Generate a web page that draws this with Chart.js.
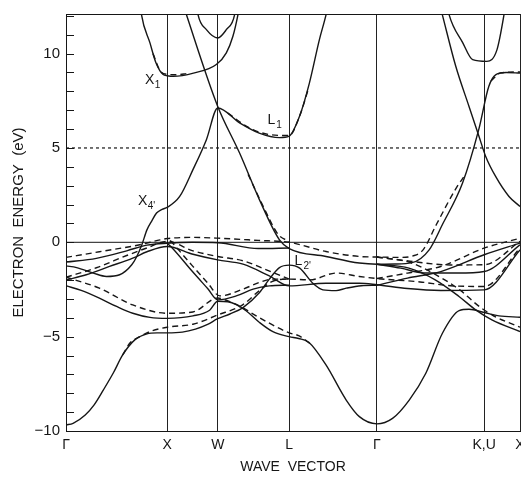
<!DOCTYPE html>
<html><head><meta charset="utf-8">
<script src="https://cdn.jsdelivr.net/npm/chart.js@4.4.1/dist/chart.umd.min.js"></script>
<style>html,body{margin:0;padding:0;background:#fff;overflow:hidden}</style>
</head><body>
<canvas id="c" width="521" height="477"></canvas>
<script>
// high-symmetry points along the path (units of 2π/a)
const kPoints = [0, 1.0, 1.5, 2.207, 3.073, 4.134, 4.488];
const kLabels = ['Γ', 'X', 'W', 'L', 'Γ', 'K,U', 'X'];
const eTicks = [-10, -5, 0, 5, 10];
const eMin = -10, eMax = 12.1;

// solid bands [k, E(eV)]
const sA = [[0,-9.68],[0.07,-9.59],[0.19,-9.15],[0.28,-8.6],[0.37,-7.82],[0.47,-6.9],[0.56,-5.97],[0.68,-5.17],[0.8,-4.85],[0.9,-4.8],[1.0,-4.8],[1.15,-4.76],[1.28,-4.6],[1.4,-4.35],[1.5,-4.05],[1.62,-3.8],[1.75,-3.46],[1.913,-2.66],[2.01,-1.95],[2.11,-1.34],[2.207,-1.21],[2.31,-1.37],[2.44,-2.17],[2.54,-2.52],[2.67,-2.56],[2.77,-2.43],[2.92,-2.3],[3.073,-2.28]];
const sB = [[0,-2.3],[0.15,-2.55],[0.33,-2.96],[0.5,-3.4],[0.66,-3.76],[0.83,-3.98],[1.0,-4.03],[1.255,-3.9],[1.42,-3.6],[1.5,-3.12],[1.6,-3.15],[1.683,-3.3],[1.78,-3.63],[1.913,-4.25],[2.05,-4.75],[2.207,-5.0],[2.3,-5.1],[2.4,-5.3],[2.57,-6.5],[2.77,-8.36],[2.9,-9.24],[3.073,-9.62],[3.228,-9.33],[3.393,-8.36],[3.557,-6.94],[3.721,-4.82],[3.886,-3.62],[3.984,-3.55],[4.134,-3.72],[4.28,-3.9],[4.488,-3.97]];
const sC = [[0,-1.25],[0.105,-1.34],[0.27,-1.63],[0.40,-1.81],[0.53,-1.72],[0.65,-1.19],[0.70,-0.75],[0.75,-0.13],[0.80,0.66],[0.85,1.15],[0.895,1.55],[0.95,1.75],[1.0,1.85],[1.124,2.43],[1.255,3.85],[1.388,5.44],[1.5,7.12],[1.72,6.32],[1.91,5.79],[2.11,5.55],[2.207,5.63],[2.308,6.67],[2.406,8.44],[2.505,10.74],[2.571,12.07],[2.62,13.3]];
const sD = [[0,-2.0],[0.2,-1.72],[0.43,-1.28],[0.66,-0.84],[0.8,-0.5],[1.0,-0.22],[1.255,-0.63],[1.5,-0.93],[1.75,-1.16],[2.01,-1.78],[2.207,-2.31],[2.57,-2.17],[2.9,-2.17],[3.073,-2.25],[3.376,-2.45],[3.705,-2.55],[4.134,-2.52],[4.488,-0.4]];
const sE = [[0,-1.05],[0.3,-0.85],[0.6,-0.45],[0.8,-0.15],[1.0,-0.05],[1.25,0.0],[1.5,-0.02],[1.9,-0.33],[2.207,-0.3]];
const sF = [[1.0,-0.05],[1.05,-0.3],[1.25,-1.55],[1.4,-2.45],[1.5,-3.05],[1.683,-2.84],[1.85,-2.48],[2.01,-2.31],[2.207,-2.27]];
const sG = [[1.11,13.4],[1.19,12.07],[1.5,7.2],[1.716,4.73],[1.913,2.25],[2.11,0.13],[2.207,-0.33],[2.57,-0.75],[2.9,-1.1],[3.073,-1.16],[3.25,-1.15],[3.42,-1.08],[3.59,-0.4],[3.72,0.93],[3.92,3.14],[4.08,5.97],[4.18,8.27],[4.25,8.89],[4.35,9.0],[4.488,8.97]];
const sH = [[0.72,13.3],[0.746,12.07],[0.83,10.57],[0.89,9.5],[0.96,8.89],[1.0,8.83],[1.06,8.8],[1.26,8.97],[1.486,9.42],[1.585,10.04],[1.65,10.92],[1.70,12.07],[1.73,13.0]];
const sI = [[1.28,13.0],[1.305,12.07],[1.388,11.27],[1.5,10.83],[1.585,11.27],[1.667,12.07],[1.69,13.0]];
const sJ = [[3.656,13.4],[3.72,12.07],[3.853,9.33],[3.984,7.2],[4.083,5.61],[4.149,4.55],[4.247,3.49],[4.379,2.43],[4.488,1.9]];
const sK = [[3.76,12.8],[3.787,12.07],[3.92,10.6],[4.02,9.68],[4.16,9.59],[4.26,10.2],[4.33,12.07],[4.35,12.8]];
const sL = [[3.073,-1.16],[3.39,-1.37],[3.65,-1.99],[3.885,-2.87],[4.05,-3.58],[4.21,-4.11],[4.488,-4.73]];
const sM = [[3.073,-2.28],[3.376,-1.9],[3.705,-1.55],[4.134,-0.66],[4.488,-0.04]];
const sN = [[3.073,-1.16],[3.31,-1.37],[3.54,-1.63],[3.87,-1.63],[4.134,-1.55],[4.488,-0.13]];

// dashed bands
const dA = [[0.56,-5.97],[0.63,-5.35],[0.73,-5.0],[0.83,-4.73],[1.0,-4.5],[1.255,-4.34],[1.5,-3.85],[1.75,-3.3],[1.913,-2.55],[2.05,-2.05],[2.207,-1.95],[2.41,-1.99],[2.67,-1.63],[2.9,-1.81],[3.073,-1.92],[3.5,-2.1],[3.8,-2.3],[4.134,-2.34],[4.488,-0.3]];
const dB = [[0,-1.85],[0.33,-2.43],[0.66,-3.32],[1.0,-3.76],[1.255,-3.69],[1.5,-2.95],[1.55,-3.01],[1.716,-3.37],[1.88,-3.9],[2.207,-4.8],[2.3,-4.95],[2.42,-5.4]];
const dC = [[0,-0.8],[0.33,-0.5],[0.73,-0.13],[0.93,0.13],[1.0,0.2],[1.25,0.26],[1.5,0.22],[1.9,0.1],[2.207,0.0],[2.57,-0.49],[2.9,-0.75],[3.073,-0.78],[3.3,-0.8],[3.43,-0.72],[3.53,-0.4],[3.66,0.93],[3.86,2.9],[3.93,3.45]];
const dD = [[1.03,0.1],[1.08,-0.2],[1.25,-1.25],[1.4,-2.15],[1.52,-2.84],[1.75,-2.48],[1.91,-2.13],[2.045,-1.95],[2.207,-1.95]];
const dE = [[0,-1.85],[0.3,-1.35],[0.6,-0.7],[0.8,-0.3],[1.0,0.05],[1.255,-0.45],[1.5,-0.75],[1.75,-0.98],[2.0,-1.5],[2.207,-1.95]];
const dF = [[3.073,-0.78],[3.39,-1.05],[3.65,-1.7],[3.9,-2.55],[4.05,-3.25],[4.21,-3.85],[4.488,-4.5]];
const dG = [[3.073,-1.92],[3.376,-1.63],[3.705,-1.28],[4.134,-0.31],[4.488,0.22]];
const dH = [[3.073,-0.78],[3.4,-1.0],[3.8,-1.2],[4.134,-1.19],[4.488,0.05]];
const dI = [[1.8,3.6],[1.95,1.9],[2.1,0.4],[2.207,0.05]];
const dJ = [[1.6,6.85],[1.8,6.1],[2.0,5.72],[2.207,5.66],[2.31,6.7],[2.4,8.2]];
const dK = [[0.86,10.0],[0.93,9.1],[1.0,8.9],[1.1,8.88],[1.2,8.95]];
const dL = [[4.2,8.55],[4.3,8.98],[4.488,9.03]];

const solidBands = [sA,sB,sC,sD,sE,sF,sG,sH,sI,sJ,sK,sL,sM,sN];
const dashedBands = [dA,dB,dC,dD,dE,dF,dG,dH,dI,dJ,dK,dL];

// reference levels
const zeroLine = [[0,0],[4.488,0]];
const fiveLine = [[0,5],[4.488,5]];

// point labels
const notes = [
  {main:'X', sub:'1', k:0.828, e:8.57},
  {main:'X', sub:"4'", k:0.759, e:2.2},
  {main:'L', sub:'1', k:2.03, e:6.45},
  {main:'L', sub:"2'", k:2.298, e:-1.01}
];

const INK = '#161616';
const FONT = '"Liberation Sans", Arial, sans-serif';
const toXY = arr => arr.map(([x,y]) => ({x, y}));
const datasets = [];
solidBands.forEach(b => datasets.push({data: toXY(b), borderColor: INK, borderWidth: 1.4, pointRadius: 0, cubicInterpolationMode: 'monotone', fill: false}));
dashedBands.forEach(b => datasets.push({data: toXY(b), borderColor: INK, borderWidth: 1.4, borderDash: [6,4], pointRadius: 0, cubicInterpolationMode: 'monotone', fill: false}));
datasets.push({data: toXY(zeroLine), borderColor: INK, borderWidth: 1, pointRadius: 0, tension: 0});
datasets.push({data: toXY(fiveLine), borderColor: INK, borderWidth: 1.2, borderDash: [3,3], pointRadius: 0, tension: 0});

const decor = {
  id: 'decor',
  afterDatasetsDraw(chart) {
    const {ctx, chartArea: a, scales: {x, y}} = chart;
    ctx.save();
    ctx.strokeStyle = INK;
    ctx.lineWidth = 1;
    // top frame
    ctx.beginPath(); ctx.moveTo(a.left, a.top + 0.5); ctx.lineTo(a.right, a.top + 0.5); ctx.stroke();
    // inward ticks every 1 eV
    for (let v = -10; v <= 12; v++) {
      const py = Math.round(y.getPixelForValue(v)) + 0.5;
      ctx.beginPath(); ctx.moveTo(a.left, py); ctx.lineTo(a.left + 8, py); ctx.stroke();
    }
    // labels
    ctx.fillStyle = INK;
    notes.forEach(n => {
      const px = x.getPixelForValue(n.k), py = y.getPixelForValue(n.e);
      ctx.font = '14px ' + FONT;
      ctx.textAlign = 'center'; ctx.textBaseline = 'middle';
      ctx.fillText(n.main, px, py);
      ctx.font = '10px ' + FONT;
      ctx.textAlign = 'left';
      ctx.fillText(n.sub, px + 5, py + 5);
    });
    ctx.restore();
  }
};

new Chart(document.getElementById('c'), {
  type: 'line',
  data: {datasets},
  plugins: [decor],
  options: {
    responsive: false,
    animation: false,
    devicePixelRatio: 1,
    events: [],
    layout: {padding: {top: 14, right: 1, left: 0, bottom: 0}},
    plugins: {legend: {display: false}, tooltip: {enabled: false}},
    scales: {
      x: {
        type: 'linear', min: 0, max: 4.488,
        afterBuildTicks: s => { s.ticks = kPoints.map(v => ({value: v})); },
        afterFit: s => { s.height = 46; s.paddingLeft = 0; s.paddingRight = 0; },
        ticks: {
          autoSkip: false, maxRotation: 0, padding: 6, color: INK,
          font: {family: FONT, size: 14},
          callback: (v, i) => kLabels[i]
        },
        grid: {color: '#222', lineWidth: 1, drawTicks: false},
        border: {display: true, color: INK, width: 1},
        title: {display: true, text: 'WAVE  VECTOR', color: INK, padding: {top: 0, bottom: 1},
          font: {family: FONT, size: 14}}
      },
      y: {
        type: 'linear', min: eMin, max: eMax,
        afterBuildTicks: s => { s.ticks = eTicks.map(v => ({value: v})); },
        afterFit: s => { s.width = 66; s.paddingTop = 0; s.paddingBottom = 0; },
        ticks: {
          padding: 6, color: INK,
          font: {family: FONT, size: 15},
          callback: v => (v < 0 ? '\u2212' + Math.abs(v) : String(v))
        },
        grid: {display: false, drawTicks: false},
        border: {display: true, color: INK, width: 1},
        title: {display: true, text: 'ELECTRON  ENERGY  (eV)', color: INK, padding: {top: 10, bottom: 0},
          font: {family: FONT, size: 15}}
      }
    }
  }
});
</script>
</body></html>
